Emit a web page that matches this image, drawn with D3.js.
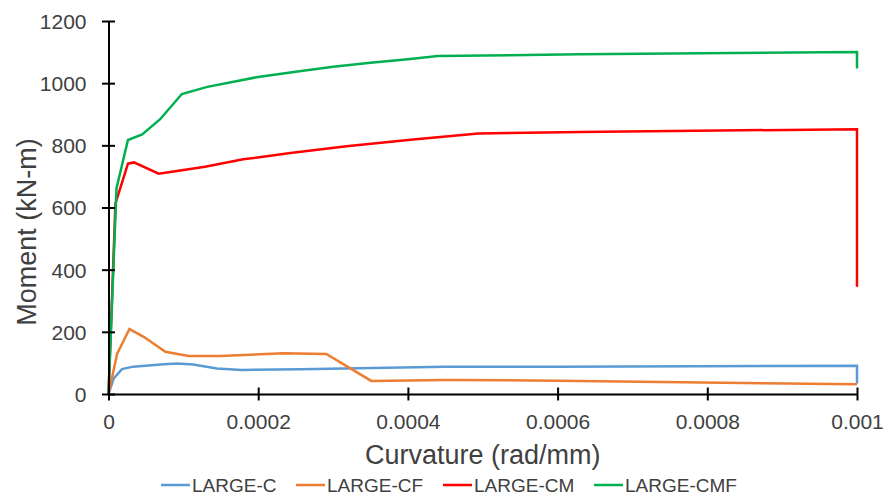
<!DOCTYPE html>
<html>
<head>
<meta charset="utf-8">
<script src="https://cdn.jsdelivr.net/npm/d3@7"></script>
<style>
  html, body { margin: 0; padding: 0; background: #fff; }
  svg { display: block; font-family: "Liberation Sans", Arial, sans-serif; }
</style>
</head>
<body>
<svg id="chart" width="885" height="499"></svg>
<script>
// Moment–curvature response of the four LARGE specimens
const seriesNames = ["LARGE-C", "LARGE-CF", "LARGE-CM", "LARGE-CMF"];
const seriesColors = ["#5b9bd5", "#ed7d31", "#ff0000", "#00b050"];

const curvC   = [0, 0.000007, 0.000018, 0.000033, 0.000074, 0.000092, 0.000113, 0.000145, 0.000178, 0.000256, 0.00045, 0.0006, 0.001, 0.001];
const momentC = [0, 50, 80, 88, 96, 98, 95, 82, 77, 80, 88, 88, 91, 34];

const curvCF   = [0, 0.0000116, 0.000028, 0.000047, 0.000076, 0.000107, 0.00015, 0.000234, 0.000291, 0.000351, 0.00045, 0.0006, 0.001];
const momentCF = [0, 130, 209, 184, 136, 122, 122, 131, 129, 42, 45, 43, 31];

const curvCM   = [0, 0.0000093, 0.000026, 0.000034, 0.000067, 0.000098, 0.000129, 0.00018, 0.000243, 0.000318, 0.000407, 0.000494, 0.00063, 0.001, 0.001];
const momentCM = [0, 613, 741, 745, 709, 720, 731, 755, 775, 797, 819, 838, 843, 852, 345];

const curvCMF   = [0, 0.0000107, 0.000026, 0.000045, 0.000069, 0.000098, 0.000132, 0.0002, 0.00025, 0.0003, 0.00035, 0.0004, 0.00044, 0.00063, 0.001, 0.001];
const momentCMF = [0, 662, 817, 835, 884, 965, 988, 1020, 1037, 1053, 1066, 1077, 1087, 1093, 1100, 1047];

const xTicks = [0, 0.0002, 0.0004, 0.0006, 0.0008, 0.001];
const xTickLabels = ["0", "0.0002", "0.0004", "0.0006", "0.0008", "0.001"];
const yTicks = [0, 200, 400, 600, 800, 1000, 1200];

const xTitle = "Curvature (rad/mm)";
const yTitle = "Moment (kN-m)";

const curvatures = [curvC, curvCF, curvCM, curvCMF];
const moments = [momentC, momentCF, momentCM, momentCMF];

const svg = d3.select("#chart");
const textColor = "#404040";

const x = d3.scaleLinear().domain([0, 0.001]).range([108.5, 857]);
const y = d3.scaleLinear().domain([0, 1200]).range([394, 21]);

// Series lines
const line = d3.line().x(d => x(d[0])).y(d => y(d[1]));
seriesNames.forEach((name, i) => {
  const pts = curvatures[i].map((c, j) => [c, moments[i][j]]);
  svg.append("path")
    .datum(pts)
    .attr("d", line)
    .attr("fill", "none")
    .attr("stroke", seriesColors[i])
    .attr("stroke-width", 2.5)
    .attr("stroke-linejoin", "miter");
});

// Axes (ticks cross the axis line)
const xAxis = svg.append("g").attr("transform", `translate(0,${y(0)})`)
  .call(d3.axisBottom(x).tickValues(xTicks).tickFormat((d, i) => xTickLabels[i]).tickSize(0).tickPadding(0));
xAxis.select(".domain").attr("stroke", "#000").attr("stroke-width", 2);
xAxis.selectAll(".tick line").attr("y1", -6.5).attr("y2", 6.5).attr("stroke", "#000").attr("stroke-width", 2);
xAxis.selectAll(".tick text")
  .attr("y", 35).attr("dy", null)
  .attr("fill", textColor).style("font-size", "21px")
  .style("font-family", "'Liberation Sans', Arial, sans-serif");

const yAxis = svg.append("g").attr("transform", `translate(${x(0)},0)`)
  .call(d3.axisLeft(y).tickValues(yTicks).tickFormat(d3.format("d")).tickSize(0).tickPadding(0));
yAxis.select(".domain").attr("stroke", "#000").attr("stroke-width", 2);
yAxis.selectAll(".tick line").attr("x1", -6.5).attr("x2", 6.5).attr("stroke", "#000").attr("stroke-width", 2);
yAxis.selectAll(".tick text")
  .attr("x", -22).attr("dy", "0.35em")
  .attr("fill", textColor).style("font-size", "21px")
  .style("font-family", "'Liberation Sans', Arial, sans-serif");

// Axis titles
svg.append("text")
  .attr("x", (x(0) + x(0.001)) / 2)
  .attr("y", 464)
  .attr("text-anchor", "middle")
  .attr("fill", textColor)
  .style("font-size", "27px")
  .text(xTitle);

svg.append("text")
  .attr("transform", `translate(36,232) rotate(-90)`)
  .attr("text-anchor", "middle")
  .attr("fill", textColor)
  .style("font-size", "27px")
  .text(yTitle);

// Legend
const legendX = [161, 296, 443, 594];
const legend = svg.append("g");
seriesNames.forEach((name, i) => {
  const g = legend.append("g").attr("transform", `translate(${legendX[i]},0)`);
  g.append("line")
    .attr("x1", 0).attr("x2", 29)
    .attr("y1", 485).attr("y2", 485)
    .attr("stroke", seriesColors[i]).attr("stroke-width", 2.5);
  g.append("text")
    .attr("x", 31).attr("y", 492)
    .attr("fill", textColor)
    .style("font-size", "19px")
    .text(name);
});
</script>
</body>
</html>
